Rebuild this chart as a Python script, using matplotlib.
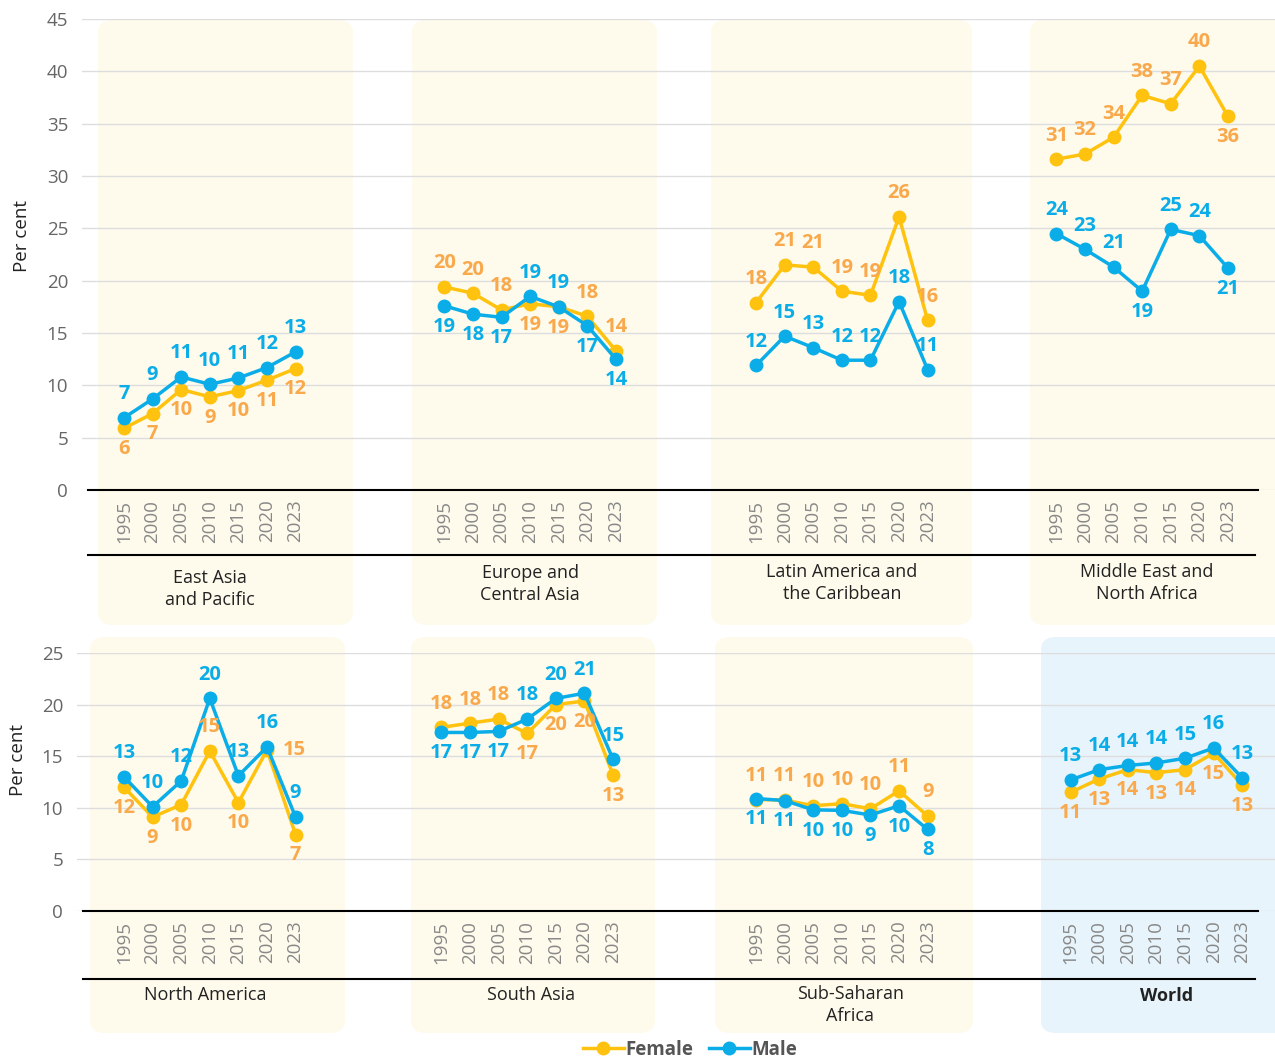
import matplotlib
matplotlib.use("Agg")
import matplotlib.pyplot as plt
from matplotlib.lines import Line2D
from matplotlib.patches import FancyBboxPatch
from matplotlib.transforms import blended_transform_factory

plt.rcParams['font.family'] = ['Open Sans', 'DejaVu Sans']

years = ["1995", "2000", "2005", "2010", "2015", "2020", "2023"]

# top row
eap_f = [5.9, 7.3, 9.6, 8.9, 9.5, 10.5, 11.6]
eap_m = [6.9, 8.7, 10.8, 10.1, 10.7, 11.7, 13.2]
eap_f_lab = [6, 7, 10, 9, 10, 11, 12]
eap_m_lab = [7, 9, 11, 10, 11, 12, 13]

eca_f = [19.4, 18.8, 17.2, 17.8, 17.5, 16.6, 13.3]
eca_m = [17.6, 16.8, 16.5, 18.5, 17.5, 15.7, 12.5]
eca_f_lab = [20, 20, 18, 19, 19, 18, 14]
eca_m_lab = [19, 18, 17, 19, 19, 17, 14]

lac_f = [17.9, 21.5, 21.3, 19.0, 18.6, 26.1, 16.2]
lac_m = [11.9, 14.7, 13.6, 12.4, 12.4, 18.0, 11.5]
lac_f_lab = [18, 21, 21, 19, 19, 26, 16]
lac_m_lab = [12, 15, 13, 12, 12, 18, 11]

mena_f = [31.6, 32.1, 33.7, 37.7, 36.9, 40.5, 35.7]
mena_m = [24.5, 23.0, 21.3, 19.0, 24.9, 24.3, 21.2]
mena_f_lab = [31, 32, 34, 38, 37, 40, 36]
mena_m_lab = [24, 23, 21, 19, 25, 24, 21]

# bottom row
na_f = [12.0, 9.1, 10.3, 15.5, 10.5, 15.6, 7.4]
na_m = [13.0, 10.1, 12.6, 20.6, 13.1, 15.9, 9.1]
na_f_lab = [12, 9, 10, 15, 10, 15, 7]
na_m_lab = [13, 10, 12, 20, 13, 16, 9]

sa_f = [17.8, 18.2, 18.6, 17.2, 20.0, 20.35, 13.2]
sa_m = [17.3, 17.3, 17.4, 18.6, 20.6, 21.1, 14.7]
sa_f_lab = [18, 18, 18, 17, 20, 20, 13]
sa_m_lab = [17, 17, 17, 18, 20, 21, 15]

ssa_f = [10.8, 10.75, 10.2, 10.4, 9.9, 11.65, 9.2]
ssa_m = [10.9, 10.7, 9.8, 9.75, 9.3, 10.2, 7.9]
ssa_f_lab = [11, 11, 10, 10, 10, 11, 9]
ssa_m_lab = [11, 11, 10, 10, 9, 10, 8]

world_f = [11.5, 12.8, 13.7, 13.4, 13.7, 15.3, 12.2]
world_m = [12.7, 13.7, 14.1, 14.35, 14.8, 15.8, 12.9]
world_f_lab = [11, 13, 14, 13, 14, 15, 13]
world_m_lab = [13, 14, 14, 14, 15, 16, 13]

# label placement: a = above, b = below, r = right
top_groups = [
    ("East Asia\nand Pacific", eap_f, eap_m, eap_f_lab, eap_m_lab, "bbbbbbb", "aaaaaaa"),
    ("Europe and\nCentral Asia", eca_f, eca_m, eca_f_lab, eca_m_lab, "aaabbaa", "bbbaabb"),
    ("Latin America and\nthe Caribbean", lac_f, lac_m, lac_f_lab, lac_m_lab, "aaaaaaa", "aaaaaaa"),
    ("Middle East and\nNorth Africa", mena_f, mena_m, mena_f_lab, mena_m_lab, "aaaaaab", "aaabaab"),
]
bottom_groups = [
    ("North America", na_f, na_m, na_f_lab, na_m_lab, "bbbabrb", "aaaaaaa"),
    ("South Asia", sa_f, sa_m, sa_f_lab, sa_m_lab, "aaabbbb", "bbbaaaa"),
    ("Sub-Saharan\nAfrica", ssa_f, ssa_m, ssa_f_lab, ssa_m_lab, "aaaaaaa", "bbbbbbb"),
    ("World", world_f, world_m, world_f_lab, world_m_lab, "bbbbbbb", "aaaaaaa"),
]

F_LINE = "#FFC20E"
F_TEXT = "#F9A94B"
M_COL = "#0AADE8"
YEL_BG = "#FEFBEC"
BLUE_BG = "#E7F4FB"

W, H = 1275, 1059
fig = plt.figure(figsize=(W / 100, H / 100), dpi=100)


def fx(x):
    return x / W


def fy(y):
    return 1 - y / H


def bg(x0, y0, x1, y1, color):
    p = FancyBboxPatch((fx(x0), fy(y1)), fx(x1 - x0), (y1 - y0) / H,
                       boxstyle="round,pad=0,rounding_size=0.012",
                       transform=fig.transFigure, facecolor=color,
                       edgecolor="none", zorder=-5)
    fig.patches.append(p)


# background panels
for x0, x1 in [(98, 353), (412, 657), (711, 972), (1030, 1290)]:
    bg(x0, 20, x1, 625, YEL_BG)
for x0, x1, c in [(90, 345, YEL_BG), (411, 655, YEL_BG), (715, 973, YEL_BG), (1041, 1290, BLUE_BG)]:
    bg(x0, 637, x1, 1033, c)

step = 28.6


def make_row(left_px, zero_px, top_px, ymax, offsets, groups, line2_px, label_top,
             label_dx, bold_last=False):
    ax = fig.add_axes([fx(left_px), fy(zero_px), fx(W - left_px), (zero_px - top_px) / H])
    ax.set_facecolor("none")
    ax.set_xlim(-(124 - left_px) / step, (W - 124) / step)
    ax.set_ylim(0, ymax)
    for s in ax.spines.values():
        s.set_visible(False)
    ax.set_yticks(range(0, ymax + 1, 5))
    ax.tick_params(axis="y", length=0, pad=10, labelsize=13.5, labelcolor="#666666")
    ax.grid(axis="y", color="#DDDDDD", lw=1)
    ax.set_axisbelow(True)

    xt, xl = [], []
    trans = blended_transform_factory(ax.transData, fig.transFigure)
    for gi, (name, f, m, fl, ml, fp, mp) in enumerate(groups):
        xs = [offsets[gi] + i for i in range(len(years))]
        xt += xs
        xl += years
        ax.plot(xs, f, color=F_LINE, lw=2.5, marker="o", ms=9, zorder=3)
        ax.plot(xs, m, color=M_COL, lw=2.5, marker="o", ms=9, zorder=4)
        for vals, labs, place, col in [(f, fl, fp, F_TEXT), (m, ml, mp, M_COL)]:
            for x, v, lab, p in zip(xs, vals, labs, place):
                if p == "a":
                    off = (0, 17)
                elif p == "b":
                    off = (0, -15)
                else:
                    off = (20, 0)
                ax.annotate(str(lab), (x, v), xytext=off, textcoords="offset points",
                            ha="center", va="center", color=col, fontsize=14.5,
                            fontweight="bold", zorder=5, annotation_clip=False)
        weight = "bold" if (bold_last and gi == len(groups) - 1) else "normal"
        ax.text(offsets[gi] + 3 + label_dx[gi], fy(label_top[gi]), name, transform=trans,
                ha="center", va="top", fontsize=13, color="#222222",
                fontweight=weight, linespacing=1.3)
    ax.set_xticks(xt)
    ax.set_xticklabels(xl, rotation=90, fontsize=13.5, color="#888888")
    ax.tick_params(axis="x", length=0, pad=7)

    # baseline and lower separator
    fig.add_artist(Line2D([fx(left_px + 6), fx(W - 17)], [fy(zero_px), fy(zero_px)],
                          color="black", lw=1.5, zorder=6))
    fig.add_artist(Line2D([fx(left_px + 6), fx(W - 20)], [fy(line2_px), fy(line2_px)],
                          color="black", lw=1.5, zorder=6))
    return ax


ax1 = make_row(82, 490, 19, 45, [0, 11.2, 22.1, 32.6], top_groups, 555,
               [569, 564, 563, 563], [0, 0, 0, 0.15])
ax2 = make_row(77, 911, 653, 25, [0, 11.1, 22.1, 33.1], bottom_groups, 979,
               [986, 986, 985, 987], [-0.15, 0.15, 0.3, 0.35], bold_last=True)

fig.text(fx(22), fy(236), "Per cent", rotation=90, ha="center", va="center",
         fontsize=13.5, color="#222222")
fig.text(fx(18), fy(760), "Per cent", rotation=90, ha="center", va="center",
         fontsize=13.5, color="#222222")

handles = [
    Line2D([], [], color=F_LINE, lw=2.5, marker="o", ms=9, label="Female"),
    Line2D([], [], color=M_COL, lw=2.5, marker="o", ms=9, label="Male"),
]
leg = fig.legend(handles=handles, loc="center", bbox_to_anchor=(fx(690), fy(1050)),
                 ncol=2, frameon=False, handlelength=2.2, handletextpad=0.1,
                 columnspacing=0.8, prop={"size": 13.5, "weight": "bold"})
for t in leg.get_texts():
    t.set_color("#555555")

fig.savefig("out.png", dpi=100)
